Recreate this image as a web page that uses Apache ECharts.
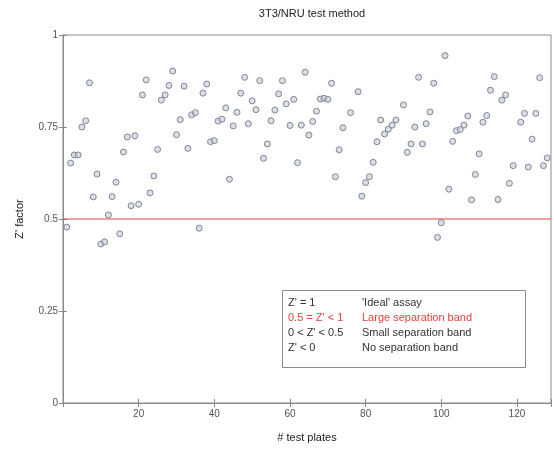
<!DOCTYPE html>
<html>
<head>
<meta charset="utf-8">
<script src="https://cdn.jsdelivr.net/npm/echarts@6/dist/echarts.min.js"></script>
<style>
  html, body { margin: 0; padding: 0; background: #fff; }
  #chart { width: 554px; height: 452px; }
</style>
</head>
<body>
<div id="chart"></div>
<script>
// plate number and Z' factor
var plates = [
  1, 2, 3, 4, 5, 6, 7, 8, 9, 10, 11, 12, 13, 14, 15, 16, 17, 18, 19, 20,
  21, 22, 23, 24, 25, 26, 27, 28, 29, 30, 31, 32, 33, 34, 35, 36, 37, 38, 39, 40,
  41, 42, 43, 44, 45, 46, 47, 48, 49, 50, 51, 52, 53, 54, 55, 56, 57, 58, 59, 60,
  61, 62, 63, 64, 65, 66, 67, 68, 69, 70, 71, 72, 73, 74, 76, 78, 79, 80, 81, 82,
  83, 84, 85, 86, 87, 88, 90, 91, 92, 93, 94, 95, 96, 97, 98, 99, 100, 101, 102, 103,
  104, 105, 106, 107, 108, 109, 110, 111, 112, 113, 114, 115, 116, 117, 118, 119, 121, 122, 123, 124,
  125, 126, 127, 128
];
var zFactor = [
  0.478, 0.652, 0.674, 0.674, 0.75, 0.767, 0.87, 0.56, 0.622, 0.432, 0.438, 0.511, 0.561, 0.6, 0.46, 0.682, 0.723, 0.536, 0.726, 0.54,
  0.837, 0.878, 0.571, 0.617, 0.689, 0.823, 0.837, 0.863, 0.902, 0.729, 0.77, 0.861, 0.692, 0.783, 0.789, 0.475, 0.842, 0.867, 0.71, 0.713,
  0.766, 0.771, 0.802, 0.608, 0.753, 0.79, 0.842, 0.885, 0.759, 0.821, 0.797, 0.876, 0.665, 0.704, 0.767, 0.796, 0.84, 0.876, 0.813, 0.754,
  0.825, 0.653, 0.755, 0.899, 0.728, 0.765, 0.793, 0.826, 0.828, 0.825, 0.869, 0.615, 0.688, 0.748, 0.789, 0.846, 0.562, 0.599, 0.615, 0.654,
  0.71, 0.769, 0.731, 0.744, 0.755, 0.769, 0.81, 0.681, 0.704, 0.75, 0.885, 0.704, 0.759, 0.791, 0.869, 0.45, 0.49, 0.944, 0.581, 0.711,
  0.74, 0.743, 0.755, 0.78, 0.552, 0.621, 0.677, 0.763, 0.781, 0.85, 0.887, 0.553, 0.823, 0.837, 0.597, 0.645, 0.763, 0.787, 0.641, 0.717,
  0.787, 0.884, 0.645, 0.666
];
var xRange = [0, 129];
var thresholdLine = 0.5;
var xTicks = [20, 40, 60, 80, 100, 120];
var yTicks = [0, 0.25, 0.5, 0.75, 1];
var legendRows = [
  ["Z' = 1", "'Ideal' assay"],
  ["0.5 = Z' < 1", 'Large separation band'],
  ["0 < Z' < 0.5", 'Small separation band'],
  ["Z' < 0", 'No separation band']
];

var font = 'Liberation Sans, Arial, sans-serif';
var points = plates.map(function (p, i) { return [p, zFactor[i]]; });

var chart = echarts.init(document.getElementById('chart'));

var legendTexts = [];
legendRows.forEach(function (row, i) {
  var col = i === 1 ? '#e04040' : '#333';
  legendTexts.push({ type: 'text', left: 288, top: 297 + i * 15, z: 11,
    style: { text: row[0], fill: col, font: '11px ' + font } });
  legendTexts.push({ type: 'text', left: 362, top: 297 + i * 15, z: 11,
    style: { text: row[1], fill: col, font: '11px ' + font } });
});

var axisCommon = {
  min: 0,
  axisLine: { show: true, lineStyle: { color: '#8a8a8a', width: 1 } },
  axisTick: { show: true, inside: true, length: 4, lineStyle: { color: '#8a8a8a' } },
  splitLine: { show: false }
};

chart.setOption({
  animation: false,
  title: {
    text: '3T3/NRU test method',
    left: 307,
    top: 3,
    textAlign: 'center',
    textStyle: { fontFamily: font, fontSize: 11, fontWeight: 'normal', color: '#222' }
  },
  grid: { left: 63, right: 3, top: 35, bottom: 49, show: true, borderColor: '#8a8a8a', borderWidth: 1 },
  xAxis: [
    Object.assign({}, axisCommon, {
      type: 'value', max: xRange[1], interval: 20,
      name: '# test plates', nameLocation: 'middle', nameGap: 29,
      nameTextStyle: { fontFamily: font, fontSize: 11, color: '#222' },
      axisLabel: {
        fontFamily: font, fontSize: 10, color: '#555', margin: 6,
        formatter: function (v) { return xTicks.indexOf(v) >= 0 ? String(v) : ''; }
      }
    }),
    Object.assign({}, axisCommon, {
      type: 'value', max: xRange[1], interval: 20, position: 'top',
      axisLabel: { show: false }
    })
  ],
  yAxis: [
    Object.assign({}, axisCommon, {
      type: 'value', max: 1, interval: 0.25,
      name: "Z' factor", nameLocation: 'middle', nameGap: 38,
      nameTextStyle: { fontFamily: font, fontSize: 11, color: '#222' },
      axisLabel: {
        fontFamily: font, fontSize: 10, color: '#555', margin: 5,
        formatter: function (v) { return yTicks.indexOf(v) >= 0 ? String(v) : ''; }
      }
    }),
    Object.assign({}, axisCommon, {
      type: 'value', max: 1, interval: 0.25, position: 'right',
      axisLabel: { show: false }
    })
  ],
  series: [
    {
      type: 'line',
      data: [[xRange[0], thresholdLine], [xRange[1], thresholdLine]],
      showSymbol: false,
      silent: true,
      lineStyle: { color: '#e04040', width: 1 },
      z: 1
    },
    {
      type: 'scatter',
      data: points,
      symbol: 'circle',
      symbolSize: 6,
      itemStyle: { color: 'rgba(200,204,214,0.65)', borderColor: '#7d8598', borderWidth: 1, opacity: 1 },
      z: 2
    }
  ],
  graphic: [
    { type: 'rect', left: 282, top: 290, shape: { width: 243, height: 77 },
      style: { fill: '#fff', stroke: '#8a8a8a', lineWidth: 1 }, z: 10 }
  ].concat(legendTexts)
});
</script>
</body>
</html>
